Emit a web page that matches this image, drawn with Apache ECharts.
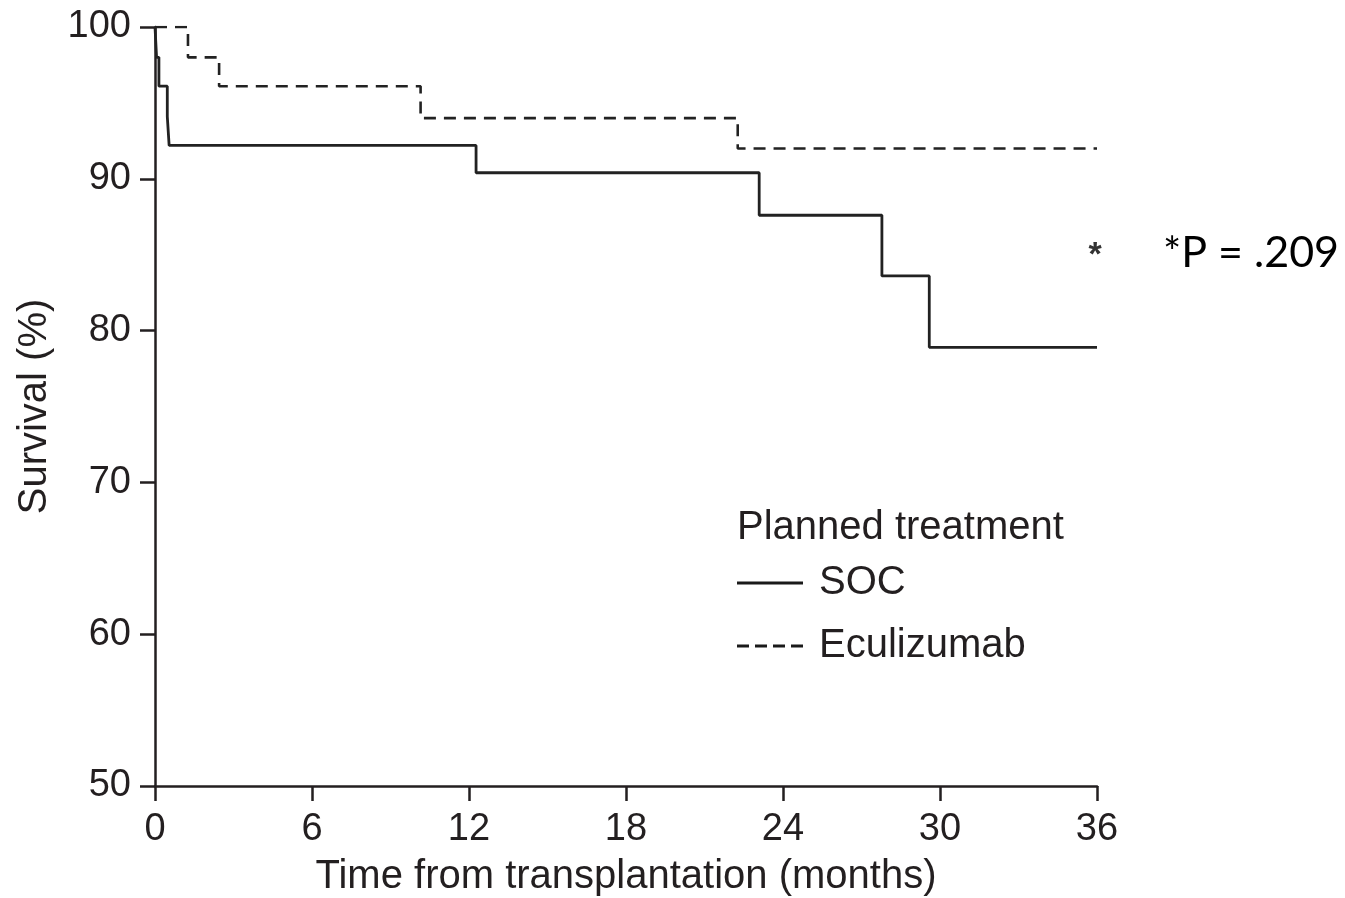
<!DOCTYPE html>
<html>
<head>
<meta charset="utf-8">
<title>Survival by planned treatment</title>
<script src="https://cdn.jsdelivr.net/npm/echarts@6/dist/echarts.min.js"></script>
<style>
  html, body { margin: 0; padding: 0; background: #ffffff; }
  #chart { width: 1345px; height: 898px; }
</style>
</head>
<body>
<div id="chart"></div>
<script>
// Kaplan–Meier step data: event times (months) and survival (%) after each step
const socTimes = [0, 0.06, 0.15, 0.47, 0.54, 12.27, 23.09, 27.78, 29.59, 36];
const socSurvival = [100, 98.0, 96.1, 94.1, 92.2, 90.4, 87.6, 83.6, 78.9, 78.9];

const ecuTimes = [0, 1.26, 2.45, 10.15, 22.27, 36];
const ecuSurvival = [100, 98.0, 96.1, 94.0, 92.0, 92.0];

const xTicks = [0, 6, 12, 18, 24, 30, 36];
const yTicks = [50, 60, 70, 80, 90, 100];

const seriesNames = ['SOC', 'Eculizumab'];
const legendTitle = 'Planned treatment';
const pValueText = '*P = .209';
const starPoint = [36, 85.5];

const ink = '#231f20';
const font = '"Liberation Sans", Arial, sans-serif';

// legend swatches: a solid bar and a row of four dashes (drawn as filled shapes)
const solidIcon = 'path://M0,0h66v3h-66z';
const dashedIcon = 'path://M0,0h12v3h-12z M18,0h12v3h-12z M36,0h12v3h-12z M54,0h12v3h-12z';

function pairs(xs, ys) {
  return xs.map((x, i) => [x, ys[i]]);
}

const chart = echarts.init(document.getElementById('chart'), null, { renderer: 'canvas' });

chart.setOption({
  backgroundColor: '#ffffff',
  animation: false,
  textStyle: { fontFamily: font, color: ink },
  title: {
    text: legendTitle,
    left: 732,
    top: 503,
    textStyle: { fontFamily: font, fontSize: 40, fontWeight: 'normal', color: ink }
  },
  legend: {
    orient: 'vertical',
    left: 737,
    top: 563,
    padding: 0,
    itemWidth: 66,
    itemHeight: 3,
    itemGap: 23,
    data: [
      { name: seriesNames[0], icon: solidIcon },
      { name: seriesNames[1], icon: dashedIcon }
    ],
    itemStyle: { color: '#1a1a1a', borderWidth: 0 },
    textStyle: { fontFamily: font, fontSize: 40, color: ink, padding: [0, 0, 0, 11] }
  },
  grid: {
    left: 155, top: 27, right: 248, bottom: 112,
    containLabel: false,
    outerBoundsMode: 'none'
  },
  xAxis: {
    type: 'value',
    min: xTicks[0],
    max: xTicks[xTicks.length - 1],
    interval: 6,
    name: 'Time from transplantation (months)',
    nameLocation: 'middle',
    nameGap: 71,
    nameTextStyle: { fontFamily: font, fontSize: 40, color: ink },
    axisLine: { show: true, lineStyle: { color: ink, width: 2.5 } },
    axisTick: { show: true, length: 15, lineStyle: { color: ink, width: 2.5 } },
    axisLabel: { fontFamily: font, fontSize: 38, color: ink, margin: 25 },
    splitLine: { show: false }
  },
  yAxis: {
    type: 'value',
    min: yTicks[0],
    max: yTicks[yTicks.length - 1],
    interval: 10,
    name: 'Survival (%)',
    nameLocation: 'middle',
    nameGap: 100,
    nameTextStyle: { fontFamily: font, fontSize: 40, color: ink },
    axisLine: { show: true, lineStyle: { color: ink, width: 2.5 } },
    axisTick: { show: true, length: 15, lineStyle: { color: ink, width: 2.5 } },
    axisLabel: { fontFamily: font, fontSize: 38, color: ink, margin: 24 },
    splitLine: { show: false }
  },
  series: [
    {
      name: seriesNames[0],
      type: 'line',
      step: 'end',
      symbol: 'none',
      data: pairs(socTimes, socSurvival),
      lineStyle: { color: '#222222', width: 2.8, type: 'solid' },
      itemStyle: { color: '#222222' },
      markPoint: {
        symbol: 'circle',
        symbolSize: 1,
        itemStyle: { color: 'rgba(0,0,0,0)' },
        data: [{ coord: starPoint }],
        label: {
          show: true,
          formatter: '*',
          fontFamily: font,
          fontSize: 34,
          fontWeight: 'bold',
          color: '#333333',
          position: 'inside',
          offset: [-2, 9]
        }
      },
      z: 3
    },
    {
      name: seriesNames[1],
      type: 'line',
      step: 'end',
      symbol: 'none',
      data: pairs(ecuTimes, ecuSurvival),
      lineStyle: { color: '#222222', width: 2.6, type: [12, 8] },
      itemStyle: { color: '#222222' },
      z: 3
    }
  ],
  graphic: [
    {
      type: 'text',
      left: 1163,
      top: 232,
      style: {
        text: pValueText,
        fontFamily: 'Lato, "Open Sans", sans-serif',
        fontSize: 43,
        fill: '#000000'
      }
    }
  ]
});
</script>
</body>
</html>
